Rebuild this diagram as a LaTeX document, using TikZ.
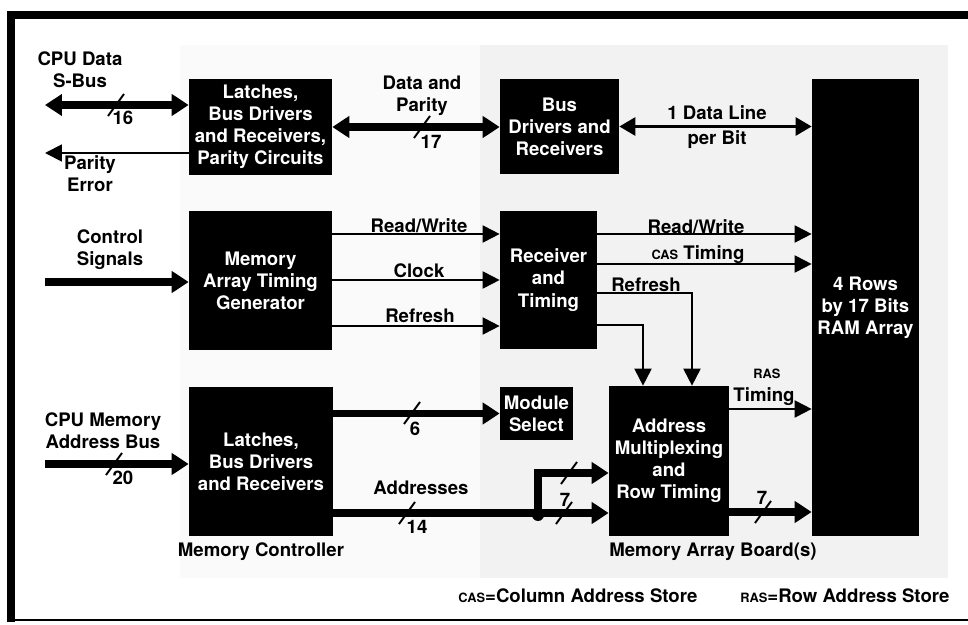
\documentclass[tikz,border=0pt]{standalone}
\usepackage{fontspec}
\setmainfont{TeX Gyre Heros}
\usepackage{tikz}
\usetikzlibrary{arrows.meta}

\newcommand{\capsm}[1]{{\fontsize{7.3}{8}\selectfont #1}}
\tikzset{
  unit/.style={fill=black,text=white,align=center,inner sep=0pt},
  lbl/.style={align=center,inner sep=0pt},
  bus/.style={line width=4pt,-{Triangle[length=0.34cm,width=0.42cm]}},
  bibus/.style={line width=4pt,
    {Triangle[length=0.34cm,width=0.42cm]}-{Triangle[length=0.34cm,width=0.42cm]}},
  sig/.style={line width=1.1pt,-{Triangle[length=0.34cm,width=0.34cm]}},
  bisig/.style={line width=1.6pt,
    {Triangle[length=0.32cm,width=0.36cm]}-{Triangle[length=0.32cm,width=0.36cm]}},
  tick/.style={line width=1.1pt}
}

\begin{document}
\begin{tikzpicture}[x=0.02cm,y=-0.02cm,
    font=\fontsize{10.6}{12.6}\selectfont\bfseries]
  \useasboundingbox (0,0) rectangle (968,625);
  \fill[gray!4] (180,45) rectangle (480,578);
  \fill[gray!10] (480,45) rectangle (948,578);
  \draw[line width=4.5pt] (11,622) -- (11,15) -- (968,15);
  \draw[line width=1.2pt] (9,620) -- (968,620);

  \node[unit,minimum width=2.86cm,minimum height=1.92cm] (latchtop)
    at (260.5,127) {Latches,\\Bus Drivers\\and Receivers,\\Parity Circuits};
  \node[unit,minimum width=2.38cm,minimum height=1.90cm] (busdrv)
    at (559.5,126.5) {Bus\\Drivers and\\Receivers};
  \node[unit,minimum width=2.14cm,minimum height=9.14cm] (ramarr)
    at (865.5,307.5) {4 Rows\\by 17 Bits\\RAM Array};
  \node[unit,minimum width=2.86cm,minimum height=2.78cm] (timgen)
    at (260.5,280.5) {Memory\\Array Timing\\Generator};
  \node[unit,minimum width=1.94cm,minimum height=2.76cm] (rcvtim)
    at (548.5,280) {Receiver\\and\\Timing};
  \node[unit,minimum width=2.88cm,minimum height=2.98cm] (latchbot)
    at (261,461.5) {Latches,\\Bus Drivers\\and Receivers};
  \node[unit,minimum width=1.46cm,minimum height=1.06cm] (modsel)
    at (536.5,413.5) {Module\\Select};
  \node[unit,minimum width=2.40cm,minimum height=3.00cm] (addrmux)
    at (669,461) {Address\\Multiplexing\\and\\Row Timing};

  \coordinate (sbus) at (45,105);
  \coordinate (perr) at (45,153);
  \coordinate (ctl) at (45,282);
  \coordinate (abus) at (45,464);
  \draw[bibus] (sbus) -- (sbus -| latchtop.west);
  \draw[sig] (latchtop.west |- perr) -- (perr);
  \draw[bibus] (latchtop.east) -- (latchtop.east -| busdrv.west);
  \draw[bisig] (busdrv.east) -- (busdrv.east -| ramarr.west);
  \draw[bus] (ctl) -- (ctl -| timgen.west);
  \foreach \ly in {234,280,326} {
    \coordinate (sigrow) at (0,\ly);
    \draw[sig] (timgen.east |- sigrow) -- (rcvtim.west |- sigrow);
  }
  \foreach \ly in {234,264} {
    \coordinate (sigrow) at (0,\ly);
    \draw[sig] (rcvtim.east |- sigrow) -- (ramarr.west |- sigrow);
  }
  \coordinate (rfdown) at (692,293);
  \coordinate (tmdown) at (643,325);
  \draw[sig] (rcvtim.east |- rfdown) -| (addrmux.north -| rfdown);
  \draw[sig] (rcvtim.east |- tmdown) -| (addrmux.north -| tmdown);
  \coordinate (rasrow) at (0,409);
  \coordinate (rowaddr) at (0,512);
  \draw[sig] (addrmux.east |- rasrow) -- (ramarr.west |- rasrow);
  \draw[bus] (addrmux.east |- rowaddr) -- (ramarr.west |- rowaddr);
  \draw[bus] (abus) -- (abus -| latchbot.west);
  \draw[bus] (latchbot.east |- modsel.west) -- (modsel.west);
  \coordinate (junc) at (538,513);
  \coordinate (hiaddr) at (538,473);
  \draw[bus] (latchbot.east |- junc) -- (addrmux.west |- junc);
  \draw[bus] (junc) -- (hiaddr) -- (addrmux.west |- hiaddr);
  \fill (junc) ++(0,2) circle (0.12cm);

  \foreach \sx/\sy in {116/105,422/127,114/464,412/413,407/513,569/473,564/513,763/512}
    \draw[tick] (\sx-8,\sy+11) -- (\sx+8,\sy-11);

  \node[lbl] (lblsbus) at (80,70) {CPU Data\\S-Bus};
  \node[lbl] (n16) at (123,118) {16};
  \node[lbl] (lblperr) at (90,174) {Parity\\Error};
  \node[lbl] (lbldata) at (422,96) {Data and\\Parity};
  \node[lbl] (n17) at (431,142) {17};
  \node[lbl] (lblline) at (717,113) {1 Data Line};
  \node[lbl] (lblbit) at (717,140) {per Bit};
  \node[lbl] (lblctl) at (110,250) {Control\\Signals};
  \node[lbl] (lblrw) at (419,226) {Read/Write};
  \node[lbl] (lblclk) at (419,271) {Clock};
  \node[lbl] (lblrf) at (420,316) {Refresh};
  \node[lbl] (lblrwout) at (696,227) {Read/Write};
  \node[lbl] (lblcas) at (698,255) {\capsm{CAS} Timing};
  \node[lbl] (lblrfout) at (646,285) {Refresh};
  \node[lbl] (lblras) at (767,374) {\capsm{RAS}};
  \node[lbl] (lblrastm) at (764,397) {Timing};
  \node[lbl] (n7row) at (762,498) {7};
  \node[lbl] (lblcpum) at (103,431) {CPU Memory\\Address Bus};
  \node[lbl] (n20) at (123,478) {20};
  \node[lbl] (n6) at (415,429) {6};
  \node[lbl] (lbladdr) at (421,488) {Addresses};
  \node[lbl] (n14) at (417,527) {14};
  \node[lbl] (n7col) at (565,500) {7};
  \node[lbl] (lblctrl) at (261,552) {Memory Controller};
  \node[lbl] (lblboard) at (713,552) {Memory Array Board(s)};
  \node[lbl] (lblcasdef) at (578,596) {\capsm{CAS}=Column Address Store};
  \node[lbl] (lblrasdef) at (845,596) {\capsm{RAS}=Row Address Store};
\end{tikzpicture}
\end{document}
